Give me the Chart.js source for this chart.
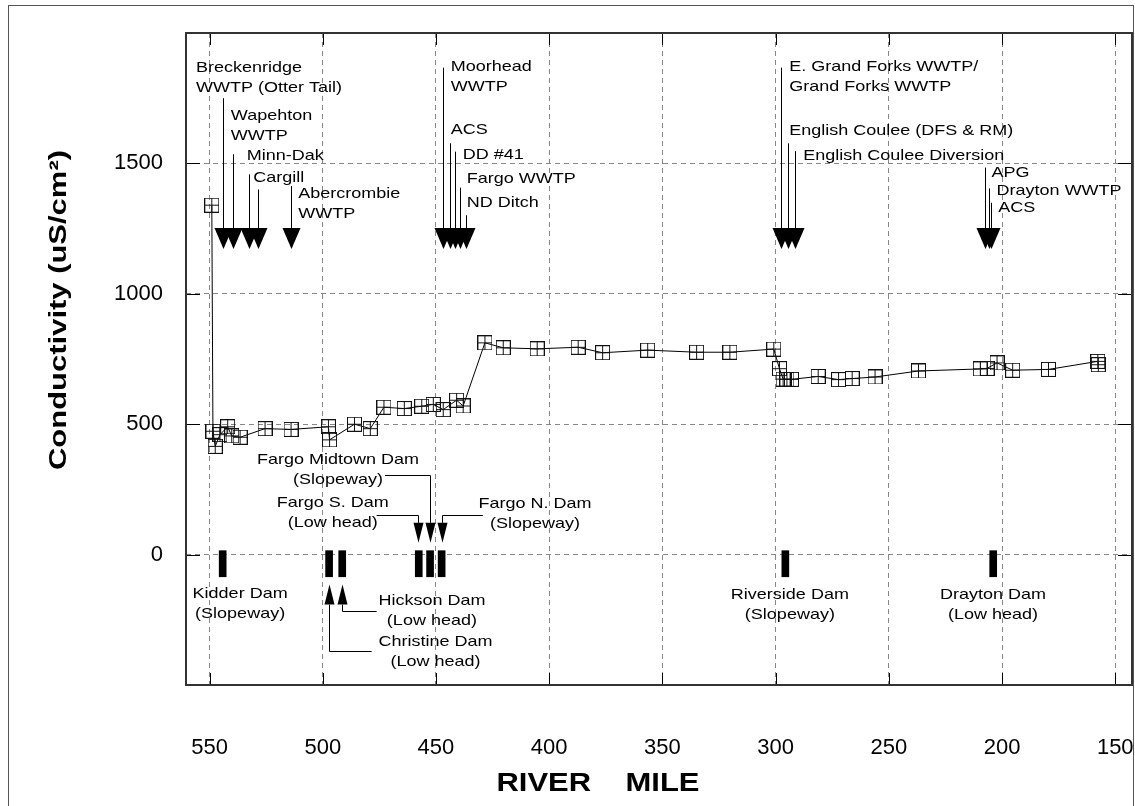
<!DOCTYPE html>
<html>
<head>
<meta charset="utf-8">
<script src="https://cdn.jsdelivr.net/npm/chart.js@4.4.0/dist/chart.umd.min.js"></script>
<style>
  html, body { margin: 0; padding: 0; background: #fff; }
</style>
</head>
<body>
<canvas id="chart" width="1135" height="806"></canvas>
<script>
// sampling sites: river mile and conductivity (uS/cm2)
const riverMiles = [549, 548.5, 547.5, 545.4, 542, 540.2, 536.5, 525.5, 514, 497.5, 497, 486, 479,
  473, 464, 456.3, 451.2, 446.8, 440.9, 438, 428.4, 420.3, 405.3, 387.2, 376.4, 356.5, 334.9,
  320.2, 300.8, 298.3, 296.7, 295, 293, 281.2, 272.2, 266.2, 256.1, 236.9, 209.6, 206.6, 202.2,
  195.3, 179.5, 157.7, 157.5];
const conductivity = [1340, 473, 415, 460, 490, 455, 450, 483, 480, 490, 440, 500, 483,
  565, 560, 569, 576, 556, 592, 570, 812, 793, 789, 795, 774, 784, 776,
  776, 788, 713, 673, 672, 672, 683, 671, 675, 681, 704, 712, 714, 735,
  707, 710, 741, 728];

// dams on the river
const damNames = ["Kidder", "Christine", "Hickson", "Fargo S.", "Fargo Midtown", "Fargo N.", "Riverside", "Drayton"];
const damMiles = [544.2, 497.2, 491.4, 457.6, 452.6, 447.5, 295.7, 203.9];
const damSpan = [-85, 15];

const xTicks = [550, 500, 450, 400, 350, 300, 250, 200, 150];
const yTicks = [0, 500, 1000, 1500];

// discharge / inflow points shown as arrows above the line
const sources = [
  { lines: ["Breckenridge", "WWTP (Otter Tail)"], mile: 543.9, top: 1750, tx: 556, ty: 1867 },
  { lines: ["Wapehton", "WWTP"], mile: 539.8, top: 1535, tx: 540.6, ty: 1682 },
  { lines: ["Minn-Dak"], mile: 532.4, top: 1458, tx: 533.6, ty: 1528 },
  { lines: ["Cargill"], mile: 528.5, top: 1400, tx: 530.7, ty: 1445 },
  { lines: ["Abercrombie", "WWTP"], mile: 514, top: 1413, tx: 510.8, ty: 1385 },
  { lines: ["Moorhead", "WWTP"], mile: 446.8, top: 1867, tx: 443.5, ty: 1871 },
  { lines: ["ACS"], mile: 443.8, top: 1577, tx: 443.5, ty: 1628 },
  { lines: ["DD #41"], mile: 441.7, top: 1545, tx: 438.2, ty: 1531 },
  { lines: ["Fargo WWTP"], mile: 439.4, top: 1407, tx: 436.4, ty: 1439 },
  { lines: ["ND Ditch"], mile: 436.8, top: 1301, tx: 436.4, ty: 1347 },
  { lines: ["E. Grand Forks WWTP/", "Grand Forks WWTP"], mile: 297.4, top: 1867, tx: 294, ty: 1871 },
  { lines: ["English Coulee (DFS & RM)"], mile: 294.5, top: 1577, tx: 294, ty: 1624 },
  { lines: ["English Coulee Diversion"], mile: 291.5, top: 1547, tx: 287.8, ty: 1528 },
  { lines: ["APG"], mile: 207.6, top: 1484, tx: 204.7, ty: 1465 },
  { lines: ["Drayton WWTP"], mile: 205.7, top: 1404, tx: 202.4, ty: 1394 },
  { lines: ["ACS"], mile: 204.7, top: 1349, tx: 201.7, ty: 1330 },
];

const damNotes = [
  { lines: ["Kidder Dam", "(Slopeway)"], tx: 536.5, ty: -150 },
  { lines: ["Christine Dam", "(Low head)"], tx: 450.2, ty: -333, arrow: { up: true, mile: 497.4, tip: -115, elbow: -371, end: 478.4 } },
  { lines: ["Hickson Dam", "(Low head)"], tx: 451.8, ty: -179, arrow: { up: true, mile: 491.4, tip: -115, elbow: -218, end: 476.2 } },
  { lines: ["Fargo S. Dam", "(Low head)"], tx: 495.6, ty: 198, arrow: { up: false, mile: 457.8, tip: 45, elbow: 153, end: 476.2 } },
  { lines: ["Fargo Midtown Dam", "(Slopeway)"], tx: 493.3, ty: 362, arrow: { up: false, mile: 452.6, tip: 45, elbow: 307, end: 472.5 } },
  { lines: ["Fargo N. Dam", "(Slopeway)"], tx: 406.3, ty: 196, arrow: { up: false, mile: 447.5, tip: 45, elbow: 153, end: 429.3 } },
  { lines: ["Riverside Dam", "(Slopeway)"], tx: 293.7, ty: -155 },
  { lines: ["Drayton Dam", "(Low head)"], tx: 204, ty: -155 },
];

const FONT = "'Liberation Sans', Arial, Helvetica, sans-serif";

function makeMarker() {
  const c = document.createElement("canvas");
  c.width = 15; c.height = 15;
  const g = c.getContext("2d");
  g.strokeStyle = "#111";
  g.lineWidth = 1;
  g.strokeRect(0.5, 0.5, 14, 14);
  g.beginPath();
  g.moveTo(7.5, 0.5); g.lineTo(7.5, 14.5);
  g.moveTo(0.5, 7.5); g.lineTo(14.5, 7.5);
  g.stroke();
  return c;
}

function stretchText(ctx, text, x, y, align, sx) {
  ctx.save();
  ctx.translate(x, y);
  ctx.scale(sx, 1);
  ctx.textAlign = align;
  ctx.textBaseline = "middle";
  ctx.fillText(text, 0, 0);
  ctx.restore();
}

const annotations = {
  id: "annotations",
  afterDatasetsDraw(chart) {
    const ctx = chart.ctx;
    const x = chart.scales.x, y = chart.scales.y;
    ctx.save();
    ctx.fillStyle = "#000";
    ctx.strokeStyle = "#000";
    ctx.lineWidth = 1;
    ctx.font = "15px " + FONT;

    // big arrows for discharge points
    sources.forEach((s) => {
      const px = Math.round(x.getPixelForValue(s.mile)) + 0.5;
      const tip = y.getPixelForValue(1172), base = y.getPixelForValue(1252);
      ctx.beginPath();
      ctx.moveTo(px, y.getPixelForValue(s.top));
      ctx.lineTo(px, base);
      ctx.stroke();
      ctx.beginPath();
      ctx.moveTo(px - 9, base);
      ctx.lineTo(px + 9, base);
      ctx.lineTo(px, tip);
      ctx.closePath();
      ctx.fill();
      const lx = x.getPixelForValue(s.tx);
      s.lines.forEach((t, i) => {
        stretchText(ctx, t, lx, y.getPixelForValue(s.ty) + i * 20, "left", 1.2);
      });
    });

    // dam labels and their pointers
    damNotes.forEach((d) => {
      const cx = x.getPixelForValue(d.tx);
      d.lines.forEach((t, i) => {
        stretchText(ctx, t, cx, y.getPixelForValue(d.ty) + i * 20, "center", 1.2);
      });
      if (!d.arrow) return;
      const a = d.arrow;
      const px = Math.round(x.getPixelForValue(a.mile)) + 0.5;
      const tip = y.getPixelForValue(a.tip);
      const base = tip + (a.up ? 20 : -20);
      const ey = Math.round(y.getPixelForValue(a.elbow)) + 0.5;
      ctx.beginPath();
      ctx.moveTo(px, base);
      ctx.lineTo(px, ey);
      ctx.lineTo(x.getPixelForValue(a.end), ey);
      ctx.stroke();
      ctx.beginPath();
      ctx.moveTo(px - 5, base);
      ctx.lineTo(px + 5, base);
      ctx.lineTo(px, tip);
      ctx.closePath();
      ctx.fill();
    });
    ctx.restore();
  },
  afterDraw(chart) {
    const ctx = chart.ctx;
    const a = chart.chartArea;
    const x = chart.scales.x, y = chart.scales.y;
    ctx.save();
    // inward tick marks on all four sides
    ctx.strokeStyle = "#000";
    ctx.lineWidth = 1;
    ctx.beginPath();
    xTicks.forEach((v) => {
      const px = Math.round(x.getPixelForValue(v)) + 0.5;
      ctx.moveTo(px, a.top); ctx.lineTo(px, a.top + 12);
      ctx.moveTo(px, a.bottom); ctx.lineTo(px, a.bottom - 12);
    });
    yTicks.forEach((v) => {
      const py = Math.round(y.getPixelForValue(v)) + 0.5;
      ctx.moveTo(a.left, py); ctx.lineTo(a.left + 14, py);
      ctx.moveTo(a.right, py); ctx.lineTo(a.right - 14, py);
    });
    ctx.stroke();
    // plot frame
    ctx.strokeStyle = "#333";
    ctx.lineWidth = 2;
    ctx.strokeRect(a.left, a.top, a.right - a.left, a.bottom - a.top);
    // outer frame
    ctx.strokeStyle = "#555";
    ctx.lineWidth = 1;
    ctx.strokeRect(8.5, 5.5, 1125, 820);

    // axis titles
    ctx.fillStyle = "#000";
    ctx.font = "bold 24px " + FONT;
    ctx.save();
    ctx.translate(59, 310);
    ctx.rotate(-Math.PI / 2);
    const yt = "Conductivity (uS/cm\u00B2)";
    const sy = 320 / ctx.measureText(yt).width;
    stretchText(ctx, yt, 0, 0, "center", sy);
    ctx.restore();
    ctx.font = "bold 26px " + FONT;
    const xt = "RIVER    MILE";
    const sxw = 203 / ctx.measureText(xt).width;
    stretchText(ctx, xt, 598, 784, "center", sxw);
    ctx.restore();
  },
};

const marker = makeMarker();

new Chart(document.getElementById("chart"), {
  type: "line",
  data: {
    datasets: [
      {
        type: "line",
        label: "Conductivity",
        data: riverMiles.map((m, i) => ({ x: m, y: conductivity[i] })),
        borderColor: "#000",
        borderWidth: 1,
        pointStyle: marker,
        pointRadius: 7,
        tension: 0,
        order: 1,
      },
      {
        type: "bar",
        label: "Dams",
        data: damMiles.map((m, i) => ({ x: m, y: damSpan, name: damNames[i] })),
        backgroundColor: "#000",
        barThickness: 7,
        grouped: false,
        order: 2,
      },
    ],
  },
  options: {
    responsive: false,
    animation: false,
    devicePixelRatio: 1,
    layout: { autoPadding: false, padding: { left: 0, right: 3, top: 33, bottom: 0 } },
    plugins: { legend: { display: false }, tooltip: { enabled: false } },
    scales: {
      x: {
        type: "linear",
        reverse: true,
        min: 142.6,
        max: 560.4,
        offset: false,
        afterFit: (s) => { s.height = 121; s.paddingLeft = 0; s.paddingRight = 0; },
        afterBuildTicks: (s) => { s.ticks = xTicks.map((v) => ({ value: v })); },
        grid: { color: "#888", lineWidth: 1, drawTicks: false, offset: false },
        border: { display: false, dash: [5, 4] },
        ticks: { padding: 50, color: "#000", font: { family: FONT, size: 22 }, maxRotation: 0, callback: (v) => String(v) },
      },
      y: {
        type: "linear",
        min: -500,
        max: 2000,
        afterFit: (s) => { s.width = 186; s.paddingTop = 0; s.paddingBottom = 0; },
        afterBuildTicks: (s) => { s.ticks = yTicks.map((v) => ({ value: v })); },
        grid: { color: "#888", lineWidth: 1, drawTicks: false, offset: false },
        border: { display: false, dash: [5, 4] },
        ticks: { padding: 23, color: "#000", font: { family: FONT, size: 22 }, callback: (v) => String(v) },
      },
    },
  },
  plugins: [annotations],
});
</script>
</body>
</html>
